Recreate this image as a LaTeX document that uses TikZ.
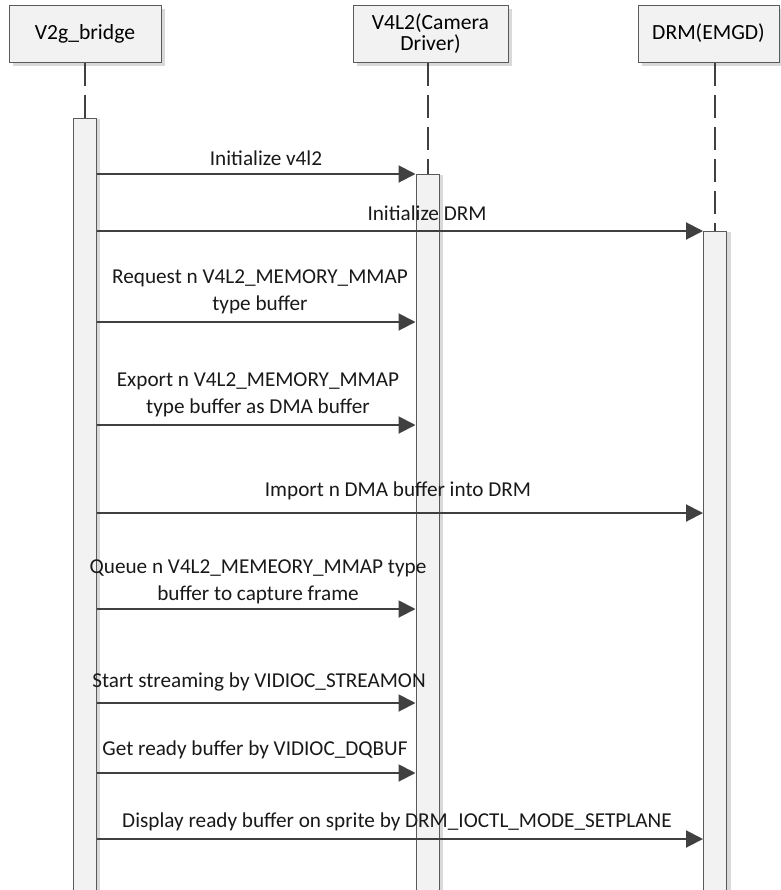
\documentclass[tikz,border=0pt]{standalone}
\usepackage{fontspec}
\setmainfont{Carlito}
\usetikzlibrary{arrows.meta,shadows,positioning}

\definecolor{msggray}{HTML}{404040}
\definecolor{boxgray}{HTML}{5A5A5A}
\definecolor{fillgray}{HTML}{F2F2F2}
\definecolor{shadegray}{HTML}{D9D9D9}

\tikzset{
	actor/.style={draw=boxgray, line width=0.5pt, fill=fillgray, align=center,
		minimum height=28.5pt, inner sep=0pt,
		font=\fontsize{10.8}{10.3}\selectfont,
		drop shadow={shadow xshift=2pt, shadow yshift=-2pt, fill=shadegray, opacity=1}},
	bar/.style={draw=boxgray, line width=0.5pt, fill=fillgray, minimum width=11.5pt,
		minimum height=390pt, inner sep=0pt, anchor=north,
		drop shadow={shadow xshift=2pt, shadow yshift=0pt, fill=shadegray, opacity=1}},
	life/.style={draw=msggray, line width=1pt, dash pattern=on 11.5pt off 4.5pt},
	msg/.style={draw=msggray, line width=1pt, -{Triangle[length=8.5pt, width=8.5pt]}},
	lbl/.style={align=center, inner sep=0pt, text=black!90, font=\fontsize{10.6}{13.5}\selectfont}
}

\begin{document}
\begin{tikzpicture}[x=0.5pt, y=-0.5pt]
		\useasboundingbox (0, 0) rectangle (781, 890);

		% objects
		\node [actor, minimum width=76pt]	(bridge)	at (85, 33.5)		{V2g\_bridge};
		\node [actor, minimum width=77.5pt]	(camera)	at (430.5, 33.5)	{V4L2(Camera\\Driver)};
		\node [actor, minimum width=70.5pt]	(drm)		at (708.5, 33.5)	{DRM(EMGD)};

		% activations
		\node [bar]	(barA)	at (84.5, 118)	{};
		\node [bar]	(barB)	at (427.5, 174)	{};
		\node [bar]	(barC)	at (715, 231)	{};

		% lifelines
		\draw [life]	(bridge.south -| barA.north) to (barA.north);
		\draw [life]	(camera.south -| barB.north) to (barB.north);
		\draw [life]	(drm.south -| barC.north) to (barC.north);

		% messages
		\draw [msg]	(barA.east |- 0, 174) to (barB.west |- 0, 174);
		\node [lbl]	(m1)	at (266, 158)	{Initialize v4l2};

		\draw [msg]	(barA.east |- 0, 231) to (barC.west |- 0, 231);
		\node [lbl]	(m2)	at (427, 213)	{Initialize DRM};

		\draw [msg]	(barA.east |- 0, 322) to (barB.west |- 0, 322);
		\node [lbl]	(m3)	at (260, 292)	{Request n V4L2\_MEMORY\_MMAP\\type buffer};

		\draw [msg]	(barA.east |- 0, 425) to (barB.west |- 0, 425);
		\node [lbl]	(m4)	at (258, 395)	{Export n V4L2\_MEMORY\_MMAP\\type buffer as DMA buffer};

		\draw [msg]	(barA.east |- 0, 513) to (barC.west |- 0, 513);
		\node [lbl]	(m5)	at (398, 491)	{Import n DMA buffer into DRM};

		\draw [msg]	(barA.east |- 0, 609) to (barB.west |- 0, 609);
		\node [lbl]	(m6)	at (258, 582)	{Queue n V4L2\_MEMEORY\_MMAP type\\buffer to capture frame};

		\draw [msg]	(barA.east |- 0, 703) to (barB.west |- 0, 703);
		\node [lbl]	(m7)	at (259, 682)	{Start streaming by VIDIOC\_STREAMON};

		\draw [msg]	(barA.east |- 0, 773) to (barB.west |- 0, 773);
		\node [lbl]	(m8)	at (255, 750)	{Get ready buffer by VIDIOC\_DQBUF};

		\draw [msg]	(barA.east |- 0, 839) to (barC.west |- 0, 839);
		\node [lbl]	(m9)	at (397, 822)	{Display ready buffer on sprite by DRM\_IOCTL\_MODE\_SETPLANE};
\end{tikzpicture}
\end{document}
